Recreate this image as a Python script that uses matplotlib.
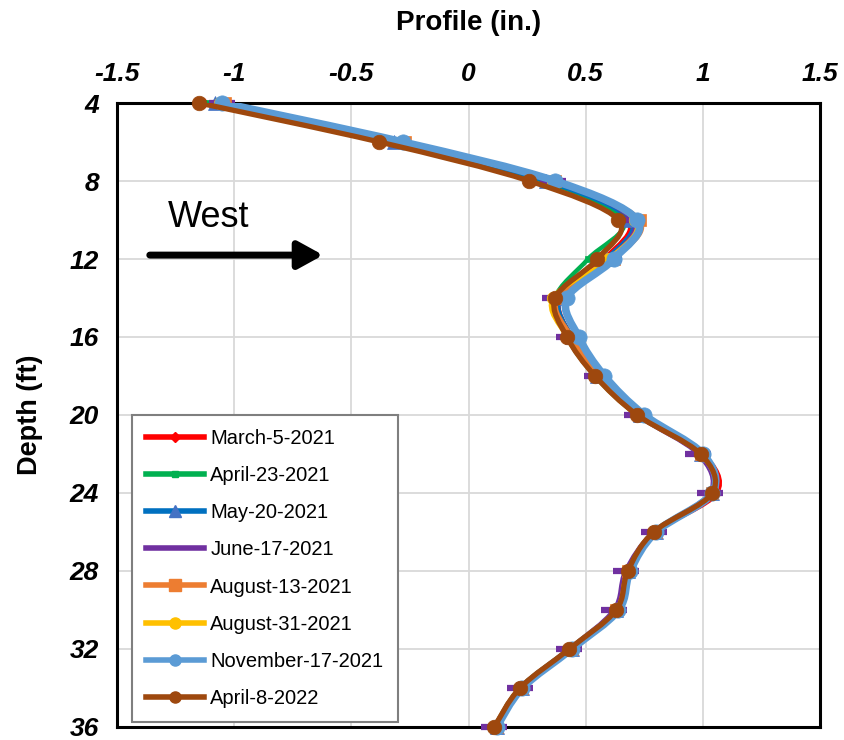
import numpy as np
import matplotlib
matplotlib.use('Agg')
import matplotlib.pyplot as plt
from matplotlib.path import Path
from matplotlib.patches import PathPatch
from matplotlib.lines import Line2D

plt.rcParams['font.family'] = ['Liberation Sans', 'DejaVu Sans']

depth = [4, 6, 8, 10, 12, 14, 16, 18, 20, 22, 24, 26, 28, 30, 32, 34, 36]

march_5_2021 = [-1.13, -0.33, 0.33, 0.68, 0.58, 0.39, 0.44, 0.55, 0.73, 1.00, 1.06, 0.80, 0.68, 0.63, 0.44, 0.23, 0.12]
april_23_2021 = [-1.12, -0.33, 0.32, 0.66, 0.51, 0.37, 0.42, 0.54, 0.72, 0.99, 1.04, 0.79, 0.68, 0.63, 0.43, 0.22, 0.11]
may_20_2021 = [-1.08, -0.32, 0.33, 0.69, 0.59, 0.39, 0.44, 0.55, 0.73, 0.99, 1.04, 0.80, 0.68, 0.63, 0.44, 0.23, 0.12]
june_17_2021 = [-1.05, -0.30, 0.36, 0.70, 0.60, 0.37, 0.43, 0.55, 0.72, 0.98, 1.03, 0.79, 0.67, 0.62, 0.43, 0.22, 0.11]
august_13_2021 = [-1.04, -0.27, 0.37, 0.73, 0.62, 0.38, 0.44, 0.56, 0.73, 0.99, 1.04, 0.80, 0.68, 0.63, 0.44, 0.23, 0.12]
august_31_2021 = [-1.06, -0.29, 0.36, 0.71, 0.60, 0.36, 0.42, 0.54, 0.72, 0.99, 1.04, 0.79, 0.68, 0.63, 0.43, 0.22, 0.11]
november_17_2021 = [-1.05, -0.28, 0.37, 0.72, 0.62, 0.42, 0.47, 0.58, 0.75, 1.00, 1.04, 0.80, 0.69, 0.64, 0.44, 0.23, 0.12]
april_8_2022 = [-1.15, -0.38, 0.26, 0.64, 0.55, 0.37, 0.42, 0.54, 0.72, 0.99, 1.04, 0.79, 0.68, 0.63, 0.43, 0.22, 0.11]

labels = ['March-5-2021', 'April-23-2021', 'May-20-2021', 'June-17-2021',
          'August-13-2021', 'August-31-2021', 'November-17-2021', 'April-8-2022']
series = [march_5_2021, april_23_2021, may_20_2021, june_17_2021,
          august_13_2021, august_31_2021, november_17_2021, april_8_2022]

x_ticks = [-1.5, -1, -0.5, 0, 0.5, 1, 1.5]
x_ticklabels = ['-1.5', '-1', '-0.5', '0', '0.5', '1', '1.5']
y_ticks = [4, 8, 12, 16, 20, 24, 28, 32, 36]

# (line color, marker color, marker, marker size, line width)
styles = [
    ('#FF0000', '#FF0000', 'D', 5, 3.2),
    ('#00B050', '#00B050', 's', 5, 3.2),
    ('#0070C0', '#4472C4', '^', 10, 3.2),
    ('#7030A0', '#7030A0', '_', 19, 3.2),
    ('#ED7D31', '#ED7D31', 's', 9, 3.2),
    ('#FFC000', '#FFC000', 'o', 9, 3.2),
    ('#5B9BD5', '#5B9BD5', 'o', 11, 5.5),
    ('#9E480E', '#9E480E', 'o', 10.5, 3.8),
]


def smooth_path(xs, ys):
    # Excel-like smoothed line as cubic bezier segments
    pts = np.column_stack([xs, ys]).astype(float)
    n = len(pts)
    verts = [pts[0]]
    codes = [Path.MOVETO]
    for i in range(n - 1):
        p0 = pts[max(i - 1, 0)]
        p1 = pts[i]
        p2 = pts[i + 1]
        p3 = pts[min(i + 2, n - 1)]
        c1 = p1 + (p2 - p0) / 6.0
        c2 = p2 - (p3 - p1) / 6.0
        verts += [c1, c2, p2]
        codes += [Path.CURVE4] * 3
    return Path(verts, codes)


fig = plt.figure(figsize=(8.44, 7.40), dpi=100)
ax = fig.add_axes([0.1386, 0.0176, 0.833, 0.8432])

handles = []
for k, (vals, lab) in enumerate(zip(series, labels)):
    lc, mc, mk, ms, lw = styles[k]
    patch = PathPatch(smooth_path(vals, depth), facecolor='none', edgecolor=lc,
                      lw=lw, capstyle='round', joinstyle='round', zorder=3 + k)
    ax.add_patch(patch)
    mew = 4.5 if mk == '_' else 0.5
    ax.plot(vals, depth, linestyle='none', marker=mk, markersize=ms,
            color=mc, markeredgecolor=mc, markeredgewidth=mew,
            clip_on=False, zorder=3.5 + k)
    if mk == '_':
        h = Line2D([], [], color=lc, lw=4)
    else:
        h = Line2D([], [], color=lc, lw=4, marker=mk, markersize=min(ms, 8),
                   markerfacecolor=mc, markeredgecolor=mc)
    handles.append(h)

ax.set_xlim(-1.5, 1.5)
ax.set_ylim(36, 4)
ax.xaxis.tick_top()
ax.xaxis.set_label_position('top')
ax.set_xticks(x_ticks)
ax.set_xticklabels(x_ticklabels)
ax.set_yticks(y_ticks)
ax.tick_params(axis='x', length=0, pad=12, labelsize=19)
ax.tick_params(axis='y', length=0, pad=13, labelsize=19)
for t in ax.get_xticklabels() + ax.get_yticklabels():
    t.set_fontweight('bold')
    t.set_fontstyle('italic')

ax.set_xlabel('Profile (in.)', fontsize=20, fontweight='bold', labelpad=23)
ax.set_ylabel('Depth (ft)', fontsize=19.5, fontweight='bold', labelpad=19)

ax.grid(True, color='#D9D9D9', lw=1.3)
ax.set_axisbelow(True)
for s in ax.spines.values():
    s.set_linewidth(2.2)
    s.set_color('black')

ax.text(-1.285, 9.85, 'West', fontsize=26, ha='left', va='center')
ax.annotate('', xy=(-0.62, 11.8), xytext=(-1.36, 11.8),
            arrowprops=dict(arrowstyle='-|>,head_length=1.0,head_width=0.55',
                            lw=5, color='black', shrinkA=0, shrinkB=0,
                            mutation_scale=15))

leg = ax.legend(handles, labels, loc='lower left', bbox_to_anchor=(0.021, 0.008),
                borderaxespad=0, fontsize=14.5, handlelength=2.9,
                handletextpad=0.3, labelspacing=0.9, borderpad=0.7,
                fancybox=False, framealpha=1, edgecolor='#7F7F7F')
leg.get_frame().set_linewidth(1.5)
leg.set_zorder(20)

plt.savefig('out.png', dpi=100)
